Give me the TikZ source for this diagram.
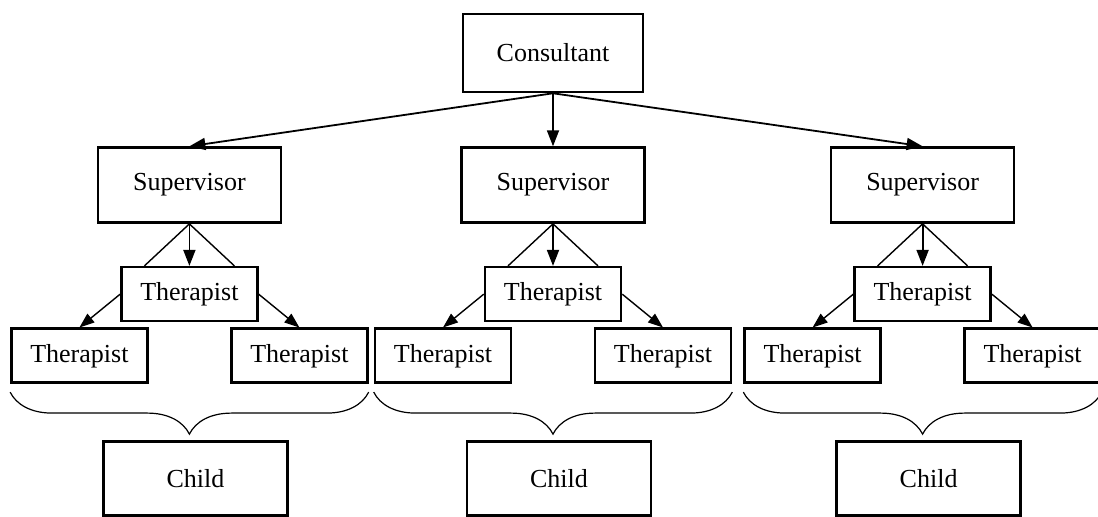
\documentclass[tikz,border=0pt]{standalone}
\usepackage{fontspec}
\setmainfont{Liberation Serif}
\usetikzlibrary{arrows.meta,positioning,decorations.pathreplacing}
\tikzset{
	box/.style={
		draw, rectangle, line width=1.3pt,
		inner sep=0pt, text=black,
		font=\fontsize{13}{15}\selectfont
	},
	big_box/.style={box, minimum width=91.5pt, minimum height=37.5pt},
	small_box/.style={box, minimum width=68pt, minimum height=27pt},
	down_arrow/.style={-{Triangle[width=6pt,length=8pt]}, line width=0.9pt},
	side_arrow/.style={-{Triangle[width=5.5pt,length=7.5pt]}, line width=0.7pt},
	team_line/.style={line width=0.7pt},
	group_brace/.style={decorate, decoration={brace, mirror, amplitude=21pt}, line width=0.6pt}
}

\begin{document}
\begin{tikzpicture}[x=0.5pt, y=-0.5pt]
				\useasboundingbox (0,0) rectangle (1098,517);
				\node[big_box, minimum width=90pt, minimum height=39pt] (cons) at (553,53) {Consultant};
				\node[big_box] (supB) [below=26.5pt of cons] {Supervisor};
				\node[big_box] (supA) [left=89pt of supB] {Supervisor};
				\node[big_box] (supC) [right=92pt of supB] {Supervisor};
				\node[small_box] (thA) [below=21pt of supA] {Therapist};
				\node[small_box] (thAl) [below=2.5pt of thA, xshift=-55pt] {Therapist};
				\node[small_box] (thAr) [below=2.5pt of thA, xshift=55pt] {Therapist};
				\node[small_box] (thB) [below=21pt of supB] {Therapist};
				\node[small_box] (thBl) [below=2.5pt of thB, xshift=-55pt] {Therapist};
				\node[small_box] (thBr) [below=2.5pt of thB, xshift=55pt] {Therapist};
				\node[small_box] (thC) [below=21pt of supC] {Therapist};
				\node[small_box] (thCl) [below=2.5pt of thC, xshift=-55pt] {Therapist};
				\node[small_box] (thCr) [below=2.5pt of thC, xshift=55pt] {Therapist};
				\node[big_box, minimum width=92pt, minimum height=37pt] (childA) [below=59pt of thA, xshift=3pt] {Child};
				\node[big_box, minimum width=92pt, minimum height=37pt] (childB) [below=59pt of thB, xshift=3pt] {Child};
				\node[big_box, minimum width=92pt, minimum height=37pt] (childC) [below=59pt of thC, xshift=3pt] {Child};
				\draw[down_arrow] (cons.south) -- (supA.north);
				\draw[down_arrow] (cons.south) -- (supB.north);
				\draw[down_arrow] (cons.south) -- (supC.north);
				\draw[down_arrow] (supA.south) -- (thA.north);
				\draw[team_line] (supA.south) -- ([xshift=-22.5pt]thA.north);
				\draw[team_line] (supA.south) -- ([xshift=22.5pt]thA.north);
				\draw[side_arrow] (thA.west) -- (thAl.north);
				\draw[side_arrow] (thA.east) -- (thAr.north);
				\draw[down_arrow] (supB.south) -- (thB.north);
				\draw[team_line] (supB.south) -- ([xshift=-22.5pt]thB.north);
				\draw[team_line] (supB.south) -- ([xshift=22.5pt]thB.north);
				\draw[side_arrow] (thB.west) -- (thBl.north);
				\draw[side_arrow] (thB.east) -- (thBr.north);
				\draw[down_arrow] (supC.south) -- (thC.north);
				\draw[team_line] (supC.south) -- ([xshift=-22.5pt]thC.north);
				\draw[team_line] (supC.south) -- ([xshift=22.5pt]thC.north);
				\draw[side_arrow] (thC.west) -- (thCl.north);
				\draw[side_arrow] (thC.east) -- (thCr.north);
				\draw[group_brace] ([yshift=-4pt]thAl.south west) -- ([yshift=-4pt]thAr.south east);
				\draw[group_brace] ([yshift=-4pt]thBl.south west) -- ([yshift=-4pt]thBr.south east);
				\draw[group_brace] ([yshift=-4pt]thCl.south west) -- ([yshift=-4pt]thCr.south east);
			\end{tikzpicture}
\end{document}
